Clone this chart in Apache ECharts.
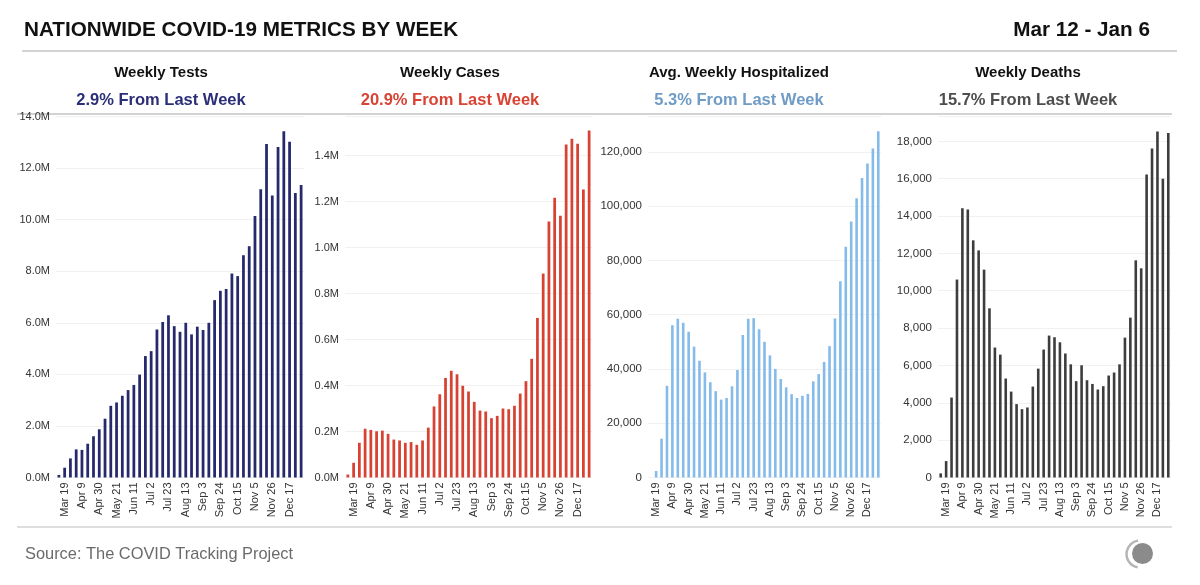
<!DOCTYPE html>
<html>
<head>
<meta charset="utf-8">
<script src="https://cdn.jsdelivr.net/npm/echarts@6/dist/echarts.min.js"></script>
<style>
  html, body { margin: 0; padding: 0; background: #ffffff; }
  #chart { width: 1200px; height: 585px; }
</style>
</head>
<body>
<div id="chart"></div>
<script>
// ---------- DATA ----------
const weeks = ['Mar 12','Mar 19','Mar 26','Apr 2','Apr 9','Apr 16','Apr 23','Apr 30','May 7','May 14','May 21','May 28',
  'Jun 4','Jun 11','Jun 18','Jun 25','Jul 2','Jul 9','Jul 16','Jul 23','Jul 30','Aug 6','Aug 13','Aug 20','Aug 27',
  'Sep 3','Sep 10','Sep 17','Sep 24','Oct 1','Oct 8','Oct 15','Oct 22','Oct 29','Nov 5','Nov 12','Nov 19','Nov 26',
  'Dec 3','Dec 10','Dec 17','Dec 24','Dec 31'];

const weeklyTests = [100000, 380000, 740000, 1090000, 1070000, 1310000, 1600000, 1870000, 2280000, 2780000,
  2910000, 3170000, 3390000, 3590000, 3990000, 4710000, 4900000, 5740000, 6030000, 6290000,
  5870000, 5650000, 6000000, 5550000, 5850000, 5720000, 6000000, 6880000, 7240000, 7310000,
  7910000, 7810000, 8620000, 8970000, 10140000, 11180000, 12930000, 10940000, 12820000, 13430000,
  13020000, 11030000, 11340000];

const weeklyCases = [13000, 64000, 151000, 212000, 207000, 201000, 204000, 190000, 165000, 161000,
  151000, 154000, 142000, 161000, 217000, 309000, 362000, 433000, 464000, 449000,
  399000, 374000, 329000, 291000, 287000, 258000, 268000, 300000, 297000, 312000,
  365000, 419000, 516000, 694000, 887000, 1113000, 1217000, 1138000, 1448000, 1473000,
  1452000, 1252000, 1509000];

const avgHospitalized = [null, 2400, 14300, 33800, 56100, 58500, 57000, 53700, 48200, 43000,
  38700, 35100, 31800, 28700, 29300, 33600, 39600, 52500, 58500, 58700,
  54600, 50000, 45000, 40000, 36300, 33200, 30700, 29300, 30100, 30800,
  35400, 38100, 42600, 48400, 58600, 72300, 85000, 94300, 102900, 110300,
  115700, 121200, 127600];

const weeklyDeaths = [220, 880, 4280, 10600, 14420, 14350, 12700, 12160, 11130, 9060,
  6960, 6580, 5300, 4600, 3930, 3660, 3750, 4870, 5830, 6850,
  7600, 7510, 7240, 6640, 6060, 5160, 6010, 5210, 5010, 4710,
  4890, 5460, 5620, 6060, 7490, 8560, 11630, 11200, 16220, 17610,
  18530, 16000, 18450];

const panelTitles = ['Weekly Tests', 'Weekly Cases', 'Avg. Weekly Hospitalized', 'Weekly Deaths'];
const panelChanges = ['2.9% From Last Week', '20.9% From Last Week', '5.3% From Last Week', '15.7% From Last Week'];
const mainTitle = 'NATIONWIDE COVID-19 METRICS BY WEEK';
const dateRange = 'Mar 12 - Jan 6';
const sourceText = 'Source: The COVID Tracking Project';

// ---------- LAYOUT / STYLE ----------
const seriesData = [weeklyTests, weeklyCases, avgHospitalized, weeklyDeaths];
const barColors = ['#27296d', '#d74232', '#84bbea', '#3d3d3d'];
const changeColors = ['#2b2f78', '#d94333', '#6f9bc5', '#4d4d4d'];
const axisMax = [14000000, 1570000, 133000, 19330];
const axisStep = [2000000, 200000, 20000, 2000];
const gridLeft = [56, 345, 648, 938];
const gridRight = [304, 592, 881, 1171];
const colCenters = [161, 450, 739, 1028];
const tickFontSize = [11, 11, 11.5, 11.5];
const GRID_TOP = 116.5, GRID_BOTTOM_Y = 477.5;

const fmtM = v => (v / 1e6).toFixed(1) + 'M';
const fmtComma = v => Math.round(v).toLocaleString('en-US');
const formatters = [fmtM, fmtM, fmtComma, fmtComma];

const LABEL_FONT = '"Liberation Sans", Arial, sans-serif';
const HEAD_FONT = '"Liberation Sans", Arial, sans-serif';

const grids = [], xAxes = [], yAxes = [], series = [], titles = [];

titles.push({ text: mainTitle, left: 24, top: 20, padding: 0,
  textStyle: { fontFamily: HEAD_FONT, fontWeight: 'bold', fontSize: 20.7, color: '#111' } });
titles.push({ text: dateRange, right: 50, top: 20, padding: 0,
  textStyle: { fontFamily: HEAD_FONT, fontWeight: 'bold', fontSize: 20.7, color: '#111' } });

for (let i = 0; i < 4; i++) {
  grids.push({ left: gridLeft[i], width: gridRight[i] - gridLeft[i], top: GRID_TOP,
    height: GRID_BOTTOM_Y - GRID_TOP });
  xAxes.push({
    type: 'category', gridIndex: i, data: weeks,
    axisLine: { show: false }, axisTick: { show: false },
    axisLabel: { rotate: 90, interval: (idx) => idx % 3 === 1, margin: 5,
      fontFamily: LABEL_FONT, fontSize: 11, color: '#333' }
  });
  yAxes.push({
    type: 'value', gridIndex: i, min: 0, max: axisMax[i], interval: axisStep[i],
    axisLine: { show: false }, axisTick: { show: false },
    splitLine: { lineStyle: { color: '#f1f1f1', width: 1 } },
    axisLabel: { formatter: formatters[i], margin: 6, showMaxLabel: i === 0,
      fontFamily: LABEL_FONT, fontSize: tickFontSize[i], color: '#333' }
  });
  series.push({
    type: 'bar', xAxisIndex: i, yAxisIndex: i, data: seriesData[i],
    barWidth: '48%', itemStyle: { color: barColors[i] }, silent: true
  });
  titles.push({ text: panelTitles[i], left: colCenters[i], top: 65, textAlign: 'center', padding: 0,
    textStyle: { fontFamily: HEAD_FONT, fontWeight: 'bold', fontSize: 15, color: '#111' } });
  titles.push({ text: panelChanges[i], left: colCenters[i], top: 92, textAlign: 'center', padding: 0,
    textStyle: { fontFamily: HEAD_FONT, fontWeight: 'bold', fontSize: 16.5, color: changeColors[i] } });
}

titles.push({ text: sourceText, left: 25, top: 546, padding: 0,
  textStyle: { fontFamily: LABEL_FONT, fontWeight: 'normal', fontSize: 16.4, color: '#6b6b6b' } });

const chart = echarts.init(document.getElementById('chart'), null, { renderer: 'canvas' });
chart.setOption({
  backgroundColor: '#ffffff',
  animation: false,
  title: titles,
  grid: grids,
  xAxis: xAxes,
  yAxis: yAxes,
  series: series,
  graphic: [
    { type: 'line', shape: { x1: 22, y1: 51, x2: 1177, y2: 51 }, style: { stroke: '#d3d3d3', lineWidth: 2 } },
    { type: 'line', shape: { x1: 17, y1: 114, x2: 1172, y2: 114 }, style: { stroke: '#d3d3d3', lineWidth: 2 } },
    { type: 'line', shape: { x1: 17, y1: 527, x2: 1172, y2: 527 }, style: { stroke: '#d3d3d3', lineWidth: 1.5 } },
    { type: 'arc', shape: { cx: 1140, cy: 554, r: 13.5, startAngle: 100 * Math.PI / 180, endAngle: 262 * Math.PI / 180, clockwise: true },
      style: { stroke: '#b5b5b5', lineWidth: 2.5, fill: null } },
    { type: 'circle', shape: { cx: 1142.5, cy: 553.5, r: 10.5 }, style: { fill: '#8b8b8b' } }
  ]
});
</script>
</body>
</html>
